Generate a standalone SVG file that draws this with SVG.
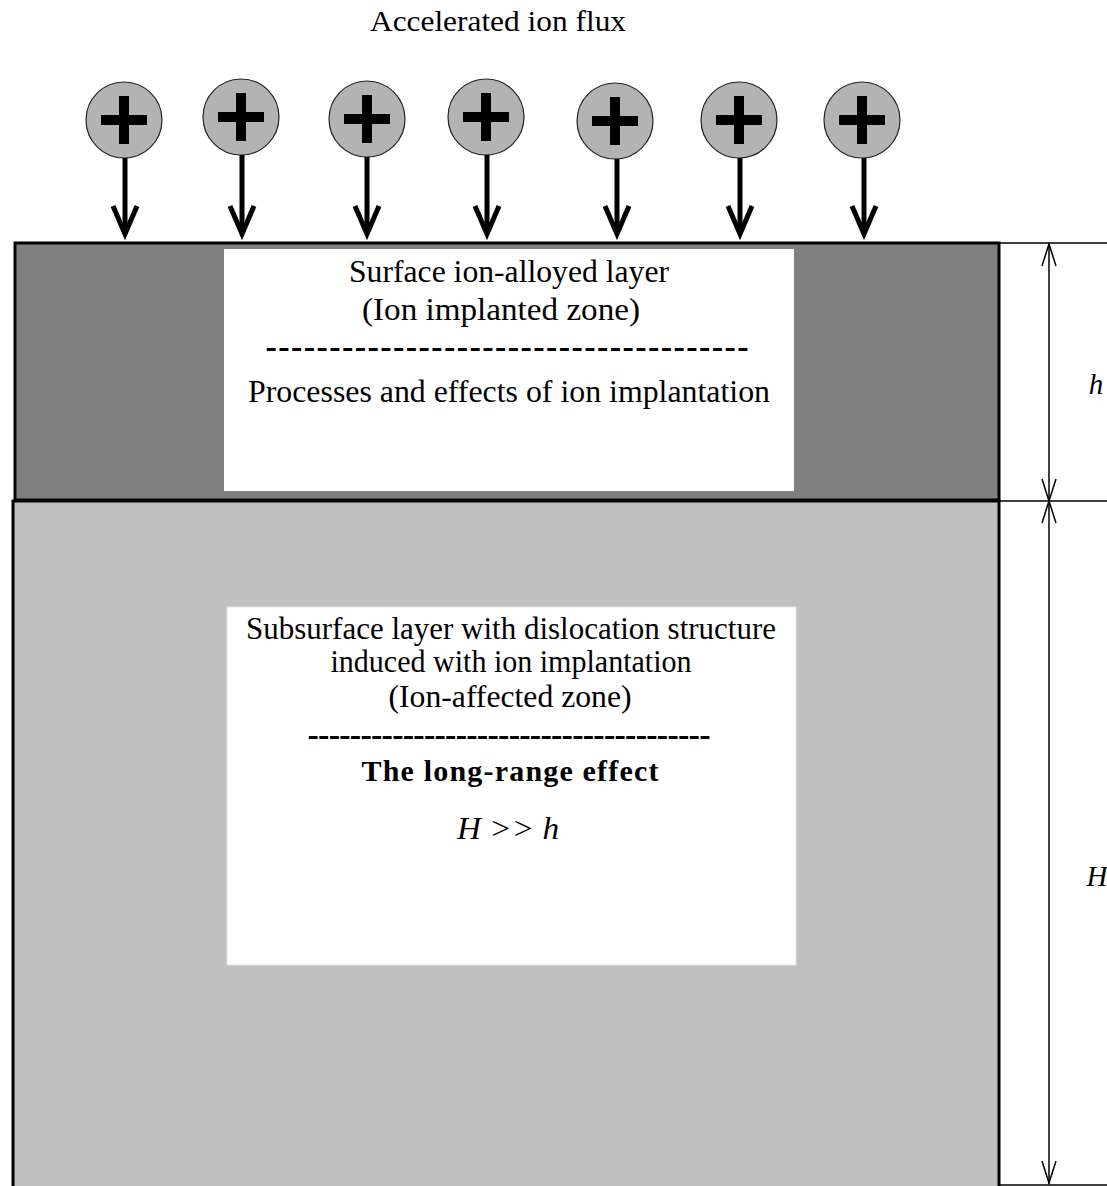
<svg xmlns="http://www.w3.org/2000/svg" width="1107" height="1186" viewBox="0 0 1107 1186">
<style>
.t{font-family:"Liberation Serif","Times New Roman",serif;fill:#000;text-anchor:middle}
.shaft{stroke:#000;stroke-width:5;fill:none}
.head{stroke:#000;stroke-width:5;fill:none;stroke-linejoin:miter}
.dim{stroke:#000;stroke-width:1.5;fill:none}
.dash{font-weight:bold}
</style>
<defs>
<g id="ion">
<circle cx="0" cy="0" r="38" fill="#b3b3b3" stroke="#222" stroke-width="1.2"/>
<rect x="-23" y="-5" width="46" height="10" fill="#000"/>
<rect x="-5" y="-24" width="10" height="48" fill="#000"/>
</g>
</defs>
<rect width="1107" height="1186" fill="#fff"/>
<text class="t" x="498" y="31" font-size="30" textLength="256" lengthAdjust="spacingAndGlyphs">Accelerated ion flux</text>

<g id="lower-layer">
<rect x="13" y="501" width="986" height="720" fill="#c0c0c0" stroke="#000" stroke-width="3"/>
<rect x="227" y="607" width="569" height="358" fill="#fff" stroke="#e6e6e6" stroke-width="1"/>
<text class="t" x="511" y="639" font-size="32" textLength="530" lengthAdjust="spacingAndGlyphs">Subsurface layer with dislocation structure</text>
<text class="t" x="511" y="672" font-size="32" textLength="361" lengthAdjust="spacingAndGlyphs">induced with ion implantation</text>
<text class="t" x="510" y="707" font-size="32" textLength="243" lengthAdjust="spacingAndGlyphs">(Ion-affected zone)</text>
<text class="t dash" x="509" y="746" font-size="34" textLength="403" lengthAdjust="spacing">--------------------------------------</text>
<text class="t" x="510" y="781" font-size="30" font-weight="bold" textLength="297" lengthAdjust="spacing">The long-range effect</text>
<text class="t" x="508" y="839" font-size="31" font-style="italic" textLength="102" lengthAdjust="spacingAndGlyphs">H &gt;&gt; h</text>
</g>

<g id="surface-layer">
<rect x="15" y="243" width="984" height="257" fill="#808080" stroke="#000" stroke-width="3"/>
<rect x="224" y="249" width="570" height="242" fill="#fff"/>
<text class="t" x="509" y="282" font-size="32" textLength="320" lengthAdjust="spacingAndGlyphs">Surface ion-alloyed layer</text>
<text class="t" x="501" y="320" font-size="32" textLength="278" lengthAdjust="spacingAndGlyphs">(Ion implanted zone)</text>
<text class="t dash" x="507" y="358" font-size="34" textLength="483" lengthAdjust="spacing">--------------------------------------</text>
<text class="t" x="509" y="402" font-size="32" textLength="522" lengthAdjust="spacingAndGlyphs">Processes and effects of ion implantation</text>
</g>

<g id="ions">
<g id="ion1"><use href="#ion" x="124" y="120"/></g>
<g id="ion2"><use href="#ion" x="241" y="117"/></g>
<g id="ion3"><use href="#ion" x="367" y="119"/></g>
<g id="ion4"><use href="#ion" x="486" y="117"/></g>
<g id="ion5"><use href="#ion" x="615" y="121"/></g>
<g id="ion6"><use href="#ion" x="739" y="120"/></g>
<g id="ion7"><use href="#ion" x="862" y="120"/></g>
</g>

<g id="connectors">
<g id="ion-arrows">
<line class="shaft" x1="125" y1="158" x2="125" y2="233"/><polyline class="head" points="113,206 125,234 137,206"/>
<line class="shaft" x1="242" y1="155" x2="242" y2="233"/><polyline class="head" points="230,206 242,234 254,206"/>
<line class="shaft" x1="367" y1="157" x2="367" y2="233"/><polyline class="head" points="355,206 367,234 379,206"/>
<line class="shaft" x1="487" y1="155" x2="487" y2="233"/><polyline class="head" points="475,206 487,234 499,206"/>
<line class="shaft" x1="617" y1="159" x2="617" y2="233"/><polyline class="head" points="605,206 617,234 629,206"/>
<line class="shaft" x1="740" y1="158" x2="740" y2="233"/><polyline class="head" points="728,206 740,234 752,206"/>
<line class="shaft" x1="864" y1="158" x2="864" y2="233"/><polyline class="head" points="852,206 864,234 876,206"/>
</g>
<g id="dimensions">
<line class="dim" x1="1000" y1="243" x2="1107" y2="243"/>
<line class="dim" x1="1000" y1="501" x2="1107" y2="501"/>
<line class="dim" x1="1000" y1="1185" x2="1107" y2="1185"/>
<line class="dim" x1="1049" y1="244" x2="1049" y2="1184"/>
<polyline class="dim" points="1042,266 1049,244 1056,266"/>
<polyline class="dim" points="1042,479 1049,501 1056,479"/>
<polyline class="dim" points="1042,523 1049,501 1056,523"/>
<polyline class="dim" points="1042,1161 1049,1183 1056,1161"/>
</g>
</g>

<g id="labels">
<text class="t" x="1096" y="394" font-size="29" font-style="italic">h</text>
<text class="t" x="1097" y="886" font-size="29" font-style="italic">H</text>
</g>
</svg>
